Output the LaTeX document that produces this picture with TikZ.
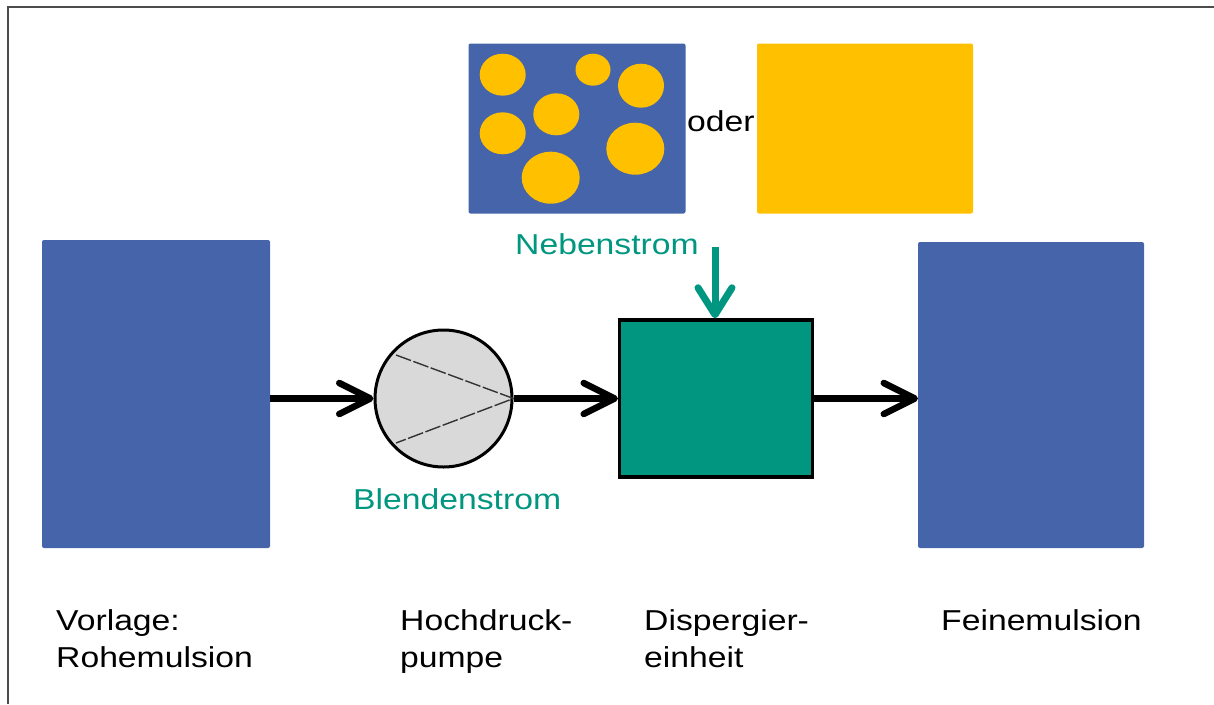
\documentclass[tikz,border=0pt]{standalone}
\usepackage{fontspec}
\setmainfont{Liberation Sans}[FakeStretch=1.17]
\usetikzlibrary{arrows.meta}
\definecolor{pblue}{RGB}{69,100,170}
\definecolor{pyellow}{RGB}{255,192,0}
\definecolor{pteal}{RGB}{0,150,128}
\definecolor{pgray}{RGB}{217,217,217}
\tikzset{
  tank/.style={fill=pblue, rounded corners=2pt, inner sep=0pt, outer sep=0pt},
  ybox/.style={fill=pyellow, rounded corners=2pt, inner sep=0pt, outer sep=0pt},
  drop/.style={fill=pyellow},
  lbl/.style={font=\fontsize{28.8}{37}\selectfont, inner sep=0pt, anchor=base west, align=left},
  tlbl/.style={lbl, text=pteal},
  flow/.style={line width=6.5pt, -{Straight Barb[length=31pt,width=31pt,round]}},
  side/.style={line width=7pt, pteal, -{Straight Barb[length=27pt,width=34pt,round]}},
  frameline/.style={line width=2pt, black!70},
}
\begin{document}
\begin{tikzpicture}[x=1pt,y=-1pt]
\useasboundingbox (0,0) rectangle (1214,704);
% frame
\draw[frameline] (8,704) -- (8,7) -- (1214,7);
% tanks
\node[tank, minimum width=228pt, minimum height=308pt] (vorlage) at (156,394) {};
\node[tank, minimum width=226pt, minimum height=306pt] (fein) at (1031,395) {};
% top boxes
\node[tank, minimum width=217pt, minimum height=170pt] (emul) at (577,128.5) {};
\node[ybox, minimum width=216pt, minimum height=170pt] (oel) at (865,128.5) {};
\fill[drop] (502.7,74.7) ellipse [x radius=23, y radius=21];
\fill[drop] (593,69.7) ellipse [x radius=17.5, y radius=16];
\fill[drop] (641,85.7) ellipse [x radius=23, y radius=22];
\fill[drop] (556.3,114.3) ellipse [x radius=23, y radius=21];
\fill[drop] (502.7,133.3) ellipse [x radius=23, y radius=21];
\fill[drop] (635.3,148.7) ellipse [x radius=29, y radius=26];
\fill[drop] (550.7,177.7) ellipse [x radius=29, y radius=26];
\node[lbl] (oder) at (687,131) {oder};
% pump
\node[circle, draw, line width=3pt, fill=pgray, minimum size=137pt, inner sep=0pt] (pump) at (443.5,398.5) {};
\draw[line width=1.4pt, black!80, dash pattern=on 16pt off 2.5pt] (396,355) -- (pump.east) -- (396,443);
% dispersing unit
\node[draw, line width=3.5pt, fill=pteal, minimum width=193pt, minimum height=157pt, inner sep=0pt] (disp) at (716.2,398.5) {};
% flows
\draw[flow] (vorlage.east |- pump.west) -- (pump.west);
\draw[flow] (pump.east) -- (disp.west);
\draw[flow] (disp.east) -- (fein.west |- disp.east);
\coordinate (nebtop) at (715,247);
\draw[side] (nebtop) -- (nebtop |- disp.north);
% labels
\node[tlbl] (neben) at (515,254.7) {Nebenstrom};
\node[tlbl] (blende) at (353,509.3) {Blendenstrom};
\node[lbl] (l1) at (56,667.7) {Vorlage:\\Rohemulsion};
\node[lbl] (l2) at (400,667.7) {Hochdruck-\\pumpe};
\node[lbl] (l3) at (644,667.7) {Dispergier-\\einheit};
\node[lbl] (l4) at (941,630.7) {Feinemulsion};
\end{tikzpicture}
\end{document}
